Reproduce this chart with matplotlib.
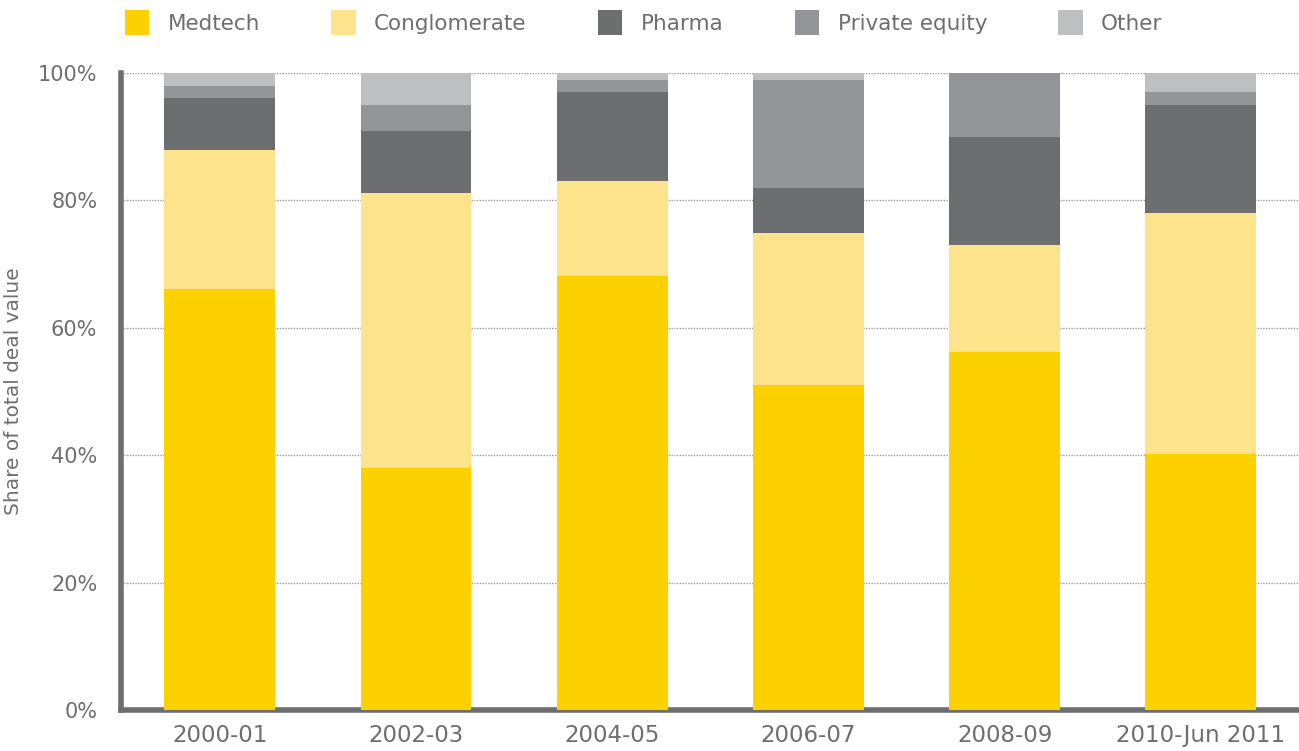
import numpy as np
import matplotlib.pyplot as plt
from matplotlib.patches import Patch

periods = ["2000-01", "2002-03", "2004-05", "2006-07", "2008-09", "2010-Jun 2011"]

# share of total deal value, %
medtech      = [66.1, 38.0, 68.1, 51.0, 56.2, 40.2]
conglomerate = [21.8, 43.1, 14.9, 23.9, 16.8, 37.8]
pharma       = [8.2, 9.8, 14.0, 7.1, 16.9, 17.0]
private_eq   = [1.9, 4.1, 1.9, 16.9, 10.1, 2.0]
other        = [2.0, 5.0, 1.1, 1.1, 0.0, 3.0]

series = [("Medtech", medtech, "#FDD000"),
          ("Conglomerate", conglomerate, "#FDE38C"),
          ("Pharma", pharma, "#6D6E70"),
          ("Private equity", private_eq, "#939598"),
          ("Other", other, "#BEBFC1")]

text_col = "#6D6E70"
plt.rcParams['font.family'] = ['DejaVu Sans']

fig = plt.figure(figsize=(12.99, 7.51), dpi=100)
ax = fig.add_axes([0.0931, 0.0546, 0.9069, 0.8482])

x = np.arange(len(periods))
bottom = np.zeros(len(periods))
for name, vals, col in series:
    vals = np.array(vals)
    ax.bar(x, vals, width=0.565, bottom=bottom, color=col, label=name, zorder=3)
    bottom += vals

ax.set_xlim(-0.504, len(periods) - 0.5)
ax.set_ylim(0, 100)
ax.set_yticks([0, 20, 40, 60, 80, 100])
ax.set_yticklabels([f"{v}%" for v in [0, 20, 40, 60, 80, 100]])
ax.set_xticks(x)
ax.set_xticklabels(periods)
ax.tick_params(axis="x", length=0, labelsize=16.5, labelcolor=text_col, pad=10)
ax.tick_params(axis="y", length=0, labelsize=15, labelcolor=text_col, pad=17)

ax.yaxis.grid(True, linestyle=(0, (1, 1)), color="#9A9A9A", linewidth=1.0, zorder=0)
for s in ["top", "right"]:
    ax.spines[s].set_visible(False)
for s in ["left", "bottom"]:
    ax.spines[s].set_linewidth(4)
    ax.spines[s].set_color(text_col)

ax.set_ylabel("Share of total deal value", fontsize=14.5, color=text_col, labelpad=10)
ax.yaxis.set_label_coords(-0.083, 0.5)

handles = [Patch(facecolor=c, edgecolor="none") for _, _, c in series]
labels = [n for n, _, _ in series]
fig.legend(handles, labels, loc="upper left", bbox_to_anchor=(0.081, 1.012), ncol=5,
           frameon=False, fontsize=15.5, labelcolor=text_col,
           handlelength=1.15, handleheight=1.4, handletextpad=0.85, columnspacing=3.3)

fig.savefig("out.png", dpi=100, facecolor="white")
